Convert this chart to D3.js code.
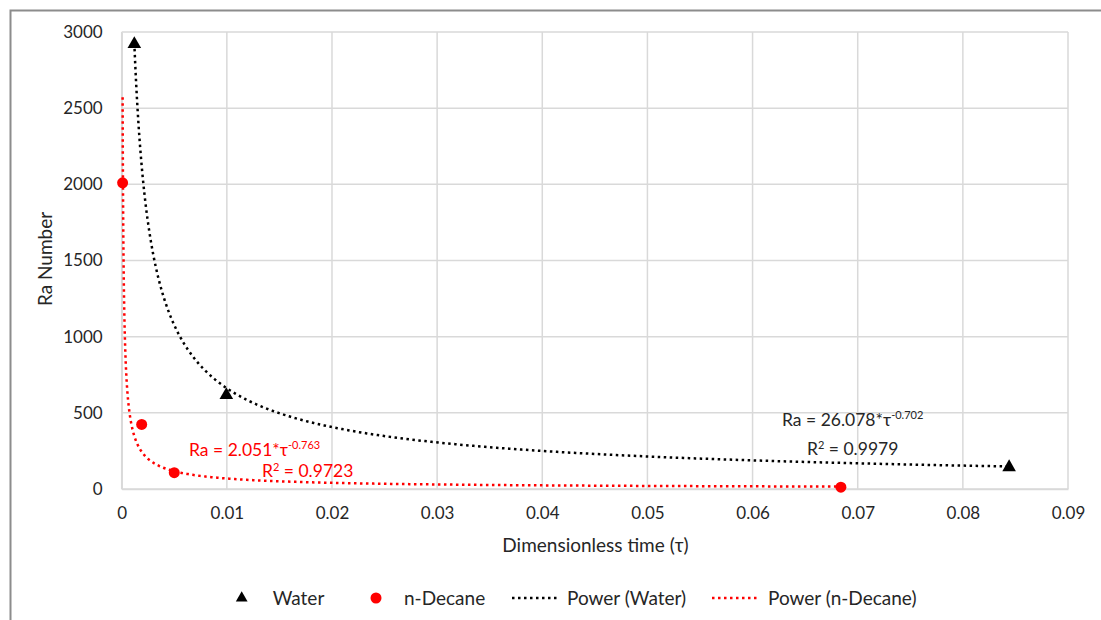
<!DOCTYPE html>
<html><head><meta charset="utf-8">
<script src="https://cdn.jsdelivr.net/npm/d3@7"></script>
<style>body{margin:0;background:#fff}svg{display:block}text{font-family:Lato,"Open Sans",sans-serif;fill:#262626}</style>
</head><body><svg id="c" width="1101" height="620"></svg>
<script>
// Data
const waterTau = [0.0012, 0.00995, 0.0844];
const waterRa  = [2920, 617, 143];
const decaneTau = [0.000087, 0.0019, 0.005, 0.0684];
const decaneRa  = [2010, 424, 107, 12];
const waterFit  = {a: 26.078, b: -0.702, r2: "0.9979"};
const decaneFit = {a: 2.051, b: -0.763, r2: "0.9723"};
const xTicks = [0, 0.01, 0.02, 0.03, 0.04, 0.05, 0.06, 0.07, 0.08, 0.09];
const yTicks = [0, 500, 1000, 1500, 2000, 2500, 3000];
const legendLabels = ["Water", "n-Decane", "Power (Water)", "Power (n-Decane)"];

const FS = "19px", TFS = "17px", EFS = "17.5px";
const svg = d3.select("#c");
const L = 121.7, R = 1068, T = 32, B = 489;
const x = d3.scaleLinear().domain([0, 0.09]).range([L, R]);
const y = d3.scaleLinear().domain([0, 3000]).range([B, T]);
const red = "#ff0000", blk = "#000";

// outer frame
svg.append("rect").attr("x", 10.5).attr("y", 10.5).attr("width", 1100).attr("height", 620)
  .attr("fill", "none").attr("stroke", "#8c8c8c").attr("stroke-width", 2);

// grid
const g = svg.append("g");
g.selectAll(".gx").data(xTicks).join("line")
  .attr("x1", d => x(d)).attr("x2", d => x(d)).attr("y1", T).attr("y2", B)
  .attr("stroke", "#d9d9d9").attr("stroke-width", 1.5);
g.selectAll(".gy").data(yTicks).join("line")
  .attr("x1", L).attr("x2", R).attr("y1", d => y(d)).attr("y2", d => y(d))
  .attr("stroke", "#d9d9d9").attr("stroke-width", 1.5);

// axes
const xa = svg.append("g").attr("transform", `translate(0,${B})`)
  .call(d3.axisBottom(x).tickValues(xTicks).tickFormat(d => d === 0 ? "0" : d3.format(".2f")(d)).tickSize(0).tickPadding(18));
xa.select(".domain").attr("stroke", "#d9d9d9").attr("stroke-width", 1.5);
xa.selectAll("text").style("font-family", "Lato").style("font-size", TFS).attr("fill", "#262626");
const ya = svg.append("g").attr("transform", `translate(${L},0)`)
  .call(d3.axisLeft(y).tickValues(yTicks).tickFormat(d3.format("d")).tickSize(0).tickPadding(19));
ya.select(".domain").attr("stroke", "#d9d9d9").attr("stroke-width", 1.5);
ya.selectAll("text").style("font-family", "Lato").style("font-size", TFS).attr("fill", "#262626");

// titles
svg.append("text").attr("x", 595.5).attr("y", 552).attr("text-anchor", "middle")
  .style("font-size", FS).text("Dimensionless time (τ)");
svg.append("text").attr("transform", "translate(52,259) rotate(-90)").attr("text-anchor", "middle")
  .style("font-size", FS).text("Ra Number");

// trendlines from fit coefficients over data range
function fitPts(fit, tau) {
  const lo = d3.min(tau), hi = d3.max(tau);
  return d3.range(0, 401).map(i => {
    const t = Math.exp(Math.log(lo) + (Math.log(hi) - Math.log(lo)) * i / 400);
    return [t, fit.a * Math.pow(t, fit.b)];
  });
}
const line = d3.line().x(d => x(d[0])).y(d => y(d[1]));
svg.append("path").datum(fitPts(decaneFit, decaneTau)).attr("d", line).attr("fill", "none")
  .attr("stroke", red).attr("stroke-width", 2.5).attr("stroke-dasharray", "2.5 3.5");
svg.append("path").datum(fitPts(waterFit, waterTau)).attr("d", line).attr("fill", "none")
  .attr("stroke", blk).attr("stroke-width", 2.5).attr("stroke-dasharray", "2.5 3.5");

// markers
const tri = d3.symbol().type(d3.symbolTriangle).size(80);
svg.selectAll(".w").data(waterTau.map((t, i) => [t, waterRa[i]])).join("path")
  .attr("d", tri).attr("transform", d => `translate(${x(d[0])},${y(d[1])})`).attr("fill", blk);
svg.selectAll(".dc").data(decaneTau.map((t, i) => [t, decaneRa[i]])).join("circle")
  .attr("cx", d => x(d[0])).attr("cy", d => y(d[1])).attr("r", 5.5).attr("fill", red);

// equation labels
function eq(xp, yp, fit, col) {
  const t = svg.append("text").attr("x", xp).attr("y", yp).style("font-size", EFS).style("fill", col);
  t.append("tspan").text(`Ra = ${fit.a}*τ`);
  t.append("tspan").attr("dy", -7).style("font-size", "11px").text(fit.b.toFixed(3));
}
function r2(xp, yp, val, col) {
  const t = svg.append("text").attr("x", xp).attr("y", yp).style("font-size", EFS).style("fill", col);
  t.append("tspan").text("R");
  t.append("tspan").attr("dy", -6).style("font-size", "11px").text("2");
  t.append("tspan").attr("dy", 6).text(" = " + val);
}
eq(189, 455.5, decaneFit, red);
r2(262, 476.5, decaneFit.r2, red);
eq(782, 426, waterFit, "#262626");
r2(807, 455, waterFit.r2, "#262626");

// legend
const ly = 598;
const lg = svg.append("g");
lg.append("path").attr("d", d3.symbol().type(d3.symbolTriangle).size(60)).attr("transform", `translate(241.7,${ly})`).attr("fill", blk);
lg.append("text").attr("x", 272.7).attr("y", ly + 6.5).style("font-size", FS).text(legendLabels[0]);
lg.append("circle").attr("cx", 376).attr("cy", ly).attr("r", 5.5).attr("fill", red);
lg.append("text").attr("x", 404).attr("y", ly + 6.5).style("font-size", FS).text(legendLabels[1]);
lg.append("line").attr("x1", 512).attr("x2", 560).attr("y1", ly).attr("y2", ly)
  .attr("stroke", blk).attr("stroke-width", 2.5).attr("stroke-dasharray", "2.5 3.5");
lg.append("text").attr("x", 567).attr("y", ly + 6.5).style("font-size", FS).text(legendLabels[2]);
lg.append("line").attr("x1", 712).attr("x2", 758).attr("y1", ly).attr("y2", ly)
  .attr("stroke", red).attr("stroke-width", 2.5).attr("stroke-dasharray", "2.5 3.5");
lg.append("text").attr("x", 768).attr("y", ly + 6.5).style("font-size", FS).text(legendLabels[3]);
</script></body></html>
